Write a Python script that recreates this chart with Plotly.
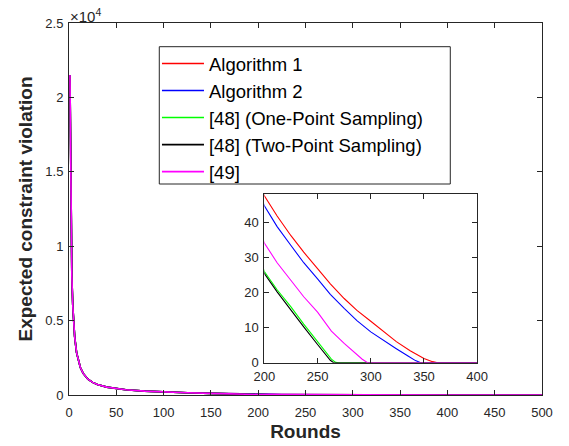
import plotly.graph_objects as go

# ---- data ----
early_rounds = [1, 2, 3, 4, 5, 6, 8, 10, 12, 15, 20, 25, 30, 40, 50, 60, 80, 100, 125, 150]
early_vals = [21500, 12000, 8000, 6000, 4700, 3900, 2850, 2250, 1850, 1450, 1060, 850, 700,
              530, 420, 350, 260, 200, 150, 110]

red_rounds = [175, 200, 212, 225, 237, 250, 262, 275, 287, 300, 312, 324, 337, 350, 358, 363, 400, 500]
red_vals = [70, 47.6, 41.8, 36.2, 31.5, 26.8, 22.5, 18.3, 14.9, 11.8, 8.8, 6.0, 3.4, 1.2, 0.3, 0, 0, 0]

blue_rounds = [175, 200, 212, 225, 237, 250, 262, 275, 287, 300, 312, 324, 335, 342, 347, 400, 500]
blue_vals = [66, 44.7, 38.8, 33.4, 28.5, 23.9, 19.5, 15.5, 12.0, 8.8, 6.3, 4.0, 1.9, 0.6, 0, 0, 0]

green_rounds = [175, 200, 212, 225, 237, 250, 258, 263, 267, 270, 400, 500]
green_vals = [48, 26.0, 20.8, 15.9, 11.0, 6.0, 3.0, 1.0, 0.1, 0, 0, 0]

black_rounds = [175, 200, 212, 225, 237, 250, 258, 262, 265, 400, 500]
black_vals = [47, 25.4, 20.2, 14.9, 10.2, 5.2, 2.3, 0.7, 0, 0, 0]

magenta_rounds = [175, 200, 212, 225, 237, 250, 263, 275, 285, 292, 297, 400, 500]
magenta_vals = [56, 34.1, 28.5, 23.4, 18.8, 14.4, 9.0, 5.5, 2.8, 1.0, 0, 0, 0]

names = ["Algorithm 1", "Algorithm 2", "[48] (One-Point Sampling)",
         "[48] (Two-Point Sampling)", "[49]"]
colors = ["#ff0000", "#0000ff", "#00ff00", "#000000", "#ff00ff"]
tails = [(red_rounds, red_vals), (blue_rounds, blue_vals), (green_rounds, green_vals),
         (black_rounds, black_vals), (magenta_rounds, magenta_vals)]

y_tickvals = [0, 5000, 10000, 15000, 20000, 25000]
y_ticktext = ["0", "0.5", "1", "1.5", "2", "2.5"]
x_ticks = list(range(0, 501, 50))
inset_x_ticks = [200, 250, 300, 350, 400]
inset_y_ticks = [0, 10, 20, 30, 40]

FONT = "Liberation Sans, Arial, Helvetica, sans-serif"
AX = "#262626"

fig = go.Figure()
for name, col, (tr, tv) in zip(names, colors, tails):
    fig.add_trace(go.Scatter(x=early_rounds + tr, y=early_vals + tv, mode="lines",
                             name=name, line=dict(color=col, width=1.6),
                             xaxis="x", yaxis="y"))
for name, col, (tr, tv) in zip(names, colors, tails):
    fig.add_trace(go.Scatter(x=early_rounds + tr, y=early_vals + tv, mode="lines",
                             name=name, line=dict(color=col, width=1.1),
                             xaxis="x2", yaxis="y2", showlegend=False))

def axis_common(standoff):
    return dict(showline=True, linecolor=AX, linewidth=1, mirror="ticks",
                ticks="inside", tickcolor=AX, ticklen=5, showgrid=False,
                zeroline=False, ticklabelstandoff=standoff, automargin=False,
                tickfont=dict(family=FONT, size=13, color=AX))

fig.update_layout(
    width=569, height=446,
    margin=dict(l=69, r=27, t=23, b=51),
    paper_bgcolor="white", plot_bgcolor="white",
    xaxis=dict(domain=[0, 1], range=[0, 500], tickvals=x_ticks,
               title=dict(text="<b>Rounds</b>", font=dict(family=FONT, size=19, color=AX), standoff=6),
               **axis_common(5)),
    yaxis=dict(domain=[0, 1], range=[0, 25000], tickvals=y_tickvals, ticktext=y_ticktext,
               title=dict(text="<b>Expected constraint violation</b>",
                          font=dict(family=FONT, size=19, color=AX), standoff=7),
               **axis_common(2)),
    xaxis2=dict(domain=[0.413, 0.863], range=[200, 400], tickvals=inset_x_ticks,
                anchor="y2", **axis_common(2)),
    yaxis2=dict(domain=[0.0868, 0.5395], range=[0, 48], tickvals=inset_y_ticks,
                anchor="x2", **axis_common(2)),
    legend=dict(x=0.186, y=0.941, xanchor="left", yanchor="top",
                bgcolor="rgba(0,0,0,0)", borderwidth=0,
                font=dict(family=FONT, size=18.5, color="black"),
                itemwidth=42, tracegroupgap=0),
    showlegend=True,
)
# legend frame
fig.add_shape(type="rect", xref="paper", yref="paper",
              x0=0.1909, x1=0.8061, y0=0.5672, y1=0.9363,
              line=dict(color=AX, width=1), fillcolor="white", layer="below")
fig.add_annotation(text="×10<sup>4</sup>", xref="paper", yref="paper", x=0, y=1,
                   xanchor="left", yanchor="bottom", showarrow=False,
                   font=dict(family=FONT, size=15, color=AX), xshift=-1, yshift=-4)

fig.write_html("out.html", config={"displayModeBar": False},
               post_script="document.body.style.margin='0';document.body.style.overflow='hidden';")
